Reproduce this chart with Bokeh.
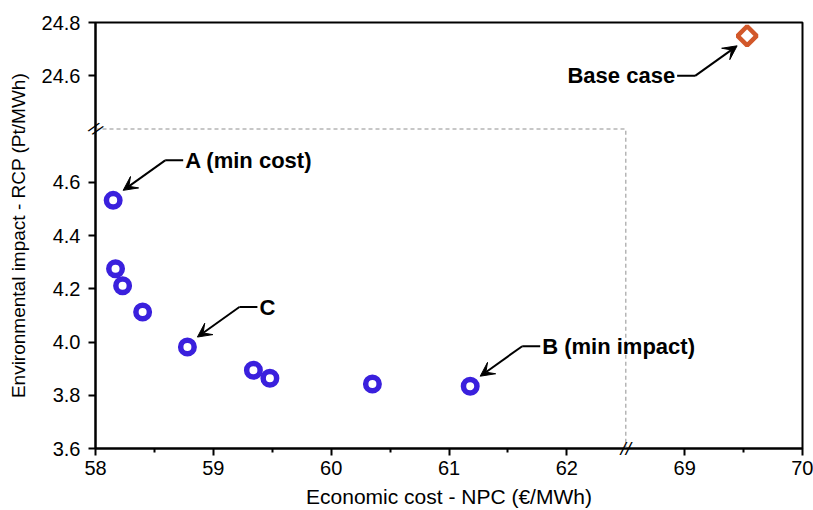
import math
from bokeh.plotting import figure
from bokeh.models import Range1d, FixedTicker, Arrow, VeeHead, Label
from bokeh.embed import file_html
from bokeh.resources import INLINE

# ---------------- data ----------------
npc = [58.15, 58.17, 58.23, 58.40, 58.78, 59.34, 59.48, 60.35, 61.18]   # €/MWh
rcp = [4.532, 4.275, 4.211, 4.113, 3.981, 3.894, 3.864, 3.842, 3.834]  # Pt/MWh
base_npc = [69.53]
base_rcp = [24.75]

x_ticks = [58, 59, 60, 61, 62, 69, 70]
x_minor = [58.5, 59.5, 60.5, 61.5, 69.5]
y_ticks = [3.6, 3.8, 4.0, 4.2, 4.4, 4.6, 24.6, 24.8]

x_low, x_high = (58.0, 62.5), (68.5, 70.0)
y_low, y_high = (3.6, 4.8), (24.4, 24.8)

labels = [("A (min cost)", 0), ("C", 4), ("B (min impact)", 8)]
base_label = "Base case"

# ------------- broken-axis transform -------------
def tx(x):
    return round(x if x <= x_low[1] else x - (x_high[0] - x_low[1]), 6)

def ty(y):
    return round(y if y <= y_low[1] else y - (y_high[0] - y_low[1]), 6)

W, H = 813, 510
BL, BR, BT, BB = 95, 11, 22, 62
fw, fh = W - BL - BR, H - BT - BB
x0, x1 = tx(x_low[0]), tx(x_high[1])
y0, y1 = ty(y_low[0]), ty(y_high[1])
ux = (x1 - x0) / fw   # data units per pixel
uy = (y1 - y0) / fh

p = figure(width=W, height=H, output_backend="svg", toolbar_location=None,
           x_range=Range1d(x0, x1), y_range=Range1d(y0, y1),
           min_border_left=BL, min_border_right=BR, min_border_top=BT,
           min_border_bottom=BB, background_fill_color="white",
           border_fill_color="white")

p.xgrid.visible = False
p.ygrid.visible = False
p.outline_line_color = "black"
p.outline_line_width = 2
p.outline_line_alpha = 1

FONT = "Liberation Sans"
p.xaxis.ticker = FixedTicker(ticks=[tx(t) for t in x_ticks],
                             minor_ticks=[tx(t) for t in x_minor])
p.xaxis.major_label_overrides = {tx(t): str(t) for t in x_ticks}
p.yaxis.ticker = FixedTicker(ticks=[ty(t) for t in y_ticks], minor_ticks=[])
p.yaxis.major_label_overrides = {ty(t): f"{t:.1f}" for t in y_ticks}
p.xaxis.axis_label = "Economic cost - NPC (€/MWh)"
p.yaxis.axis_label = "Environmental impact - RCP (Pt/MWh)"

for ax in (p.xaxis[0], p.yaxis[0]):
    ax.axis_line_width = 2
    ax.axis_line_color = "black"
    ax.major_tick_line_width = 2
    ax.major_tick_line_color = "black"
    ax.major_tick_in = 0
    ax.major_tick_out = 7
    ax.minor_tick_in = 0
    ax.minor_tick_out = 4
    ax.minor_tick_line_width = 2
    ax.minor_tick_line_color = "black"
    ax.major_label_text_font = FONT
    ax.major_label_text_font_size = "20px"
    ax.major_label_text_color = "black"
    ax.axis_label_text_font = FONT
    ax.axis_label_text_font_size = "19px"
    ax.axis_label_text_font_style = "normal"
    ax.axis_label_text_color = "black"
p.xaxis.major_label_standoff = 5
p.xaxis.axis_label_standoff = 7
p.yaxis.major_label_standoff = 8
p.yaxis.axis_label_standoff = 10
p.xaxis.axis_label_text_font_size = "21px"

# dashed frame of the lower-left panel
p.line(x=[tx(x_low[0]), tx(x_low[1]), tx(x_low[1])],
       y=[ty(y_low[1]), ty(y_low[1]), ty(y_low[0])],
       line_color="#b5b5b5", line_width=1.5, line_dash="4 3")

BLUE = "#3a20dd"
ORANGE = "#d2582a"
p.scatter([tx(v) for v in npc], [ty(v) for v in rcp], marker="circle",
          size=13.5, fill_color="white", line_color=BLUE, line_width=5.5)
p.scatter([tx(v) for v in base_npc], [ty(v) for v in base_rcp], marker="square",
          angle=math.pi / 4, size=13.5, fill_color="white",
          line_color=ORANGE, line_width=4.5)

# ------------- annotations -------------
def annotate(text, px, py, sgn_x, sgn_y):
    tipx, tipy = px + sgn_x * 10 * ux, py + sgn_y * 10 * uy
    elx, ely = tipx + sgn_x * 42 * ux, tipy + sgn_y * 30 * uy
    lex = elx + sgn_x * 18 * ux
    p.add_layout(Arrow(end=VeeHead(size=14, fill_color="black", line_color="black",
                                   line_width=1),
                       x_start=elx, y_start=ely, x_end=tipx, y_end=tipy,
                       line_width=2, line_color="black"))
    p.add_layout(Arrow(end=None, x_start=elx, y_start=ely, x_end=lex, y_end=ely,
                       line_width=2, line_color="black"))
    p.add_layout(Label(x=lex + sgn_x * 2 * ux, y=ely, text=text, text_font=FONT,
                       text_font_style="bold", text_font_size="22px",
                       text_color="black", text_baseline="middle",
                       text_align="left" if sgn_x > 0 else "right"))

for text, i in labels:
    annotate(text, tx(npc[i]), ty(rcp[i]), 1, 1)
annotate(base_label, tx(base_npc[0]), ty(base_rcp[0]), -1, -1)

# ------------- axis break marks -------------
# Placed in side panels (with data units) so that they are not clipped to the frame.
p.add_layout(Label(x=tx(x_low[0]), y=ty(y_low[1]), text="//", text_font=FONT,
                   text_font_size="18px", text_color="black",
                   angle=math.radians(-39), text_align="center",
                   text_baseline="middle"), "above")
p.add_layout(Label(x=tx(x_low[1]), y=ty(y_low[0]), text="//", text_font=FONT,
                   text_font_size="19px", text_font_style="italic",
                   text_color="black", text_align="center",
                   text_baseline="middle"), "right")

open("out.html", "w").write(file_html(p, INLINE))
